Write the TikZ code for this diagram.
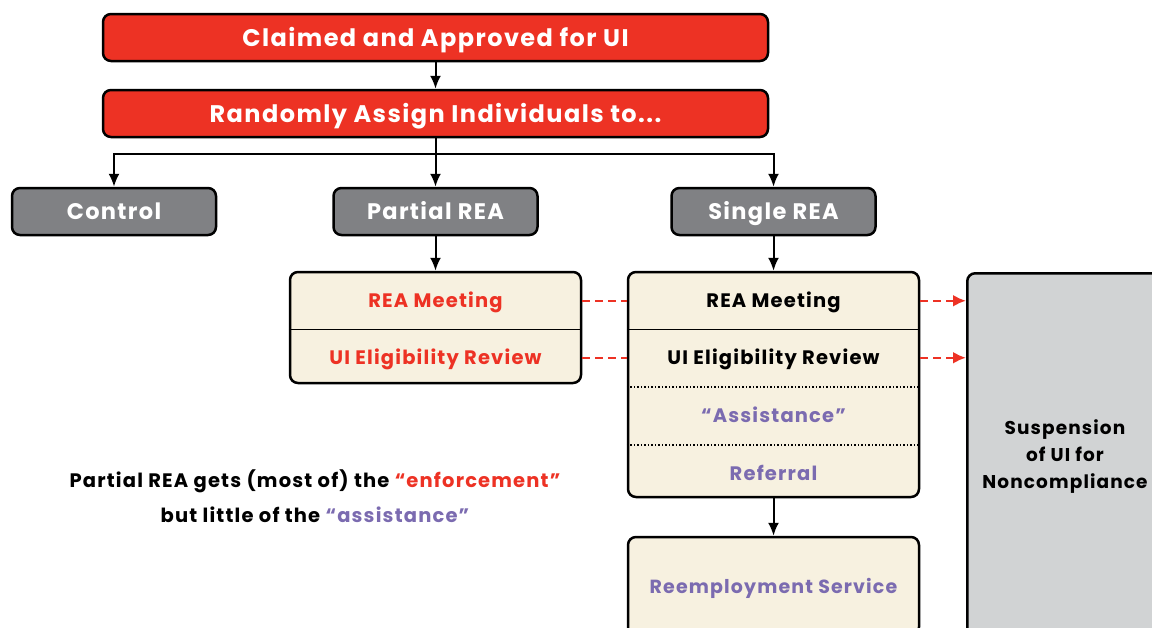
\documentclass[tikz,border=0pt]{standalone}
\usepackage{fontspec}
\setmainfont{Poppins}[LetterSpace=6]
\usetikzlibrary{arrows.meta,positioning,calc}
\definecolor{flowred}{RGB}{237,50,36}
\definecolor{flowgray}{RGB}{128,129,132}
\definecolor{cream}{RGB}{247,241,224}
\definecolor{suspgray}{RGB}{209,211,212}
\definecolor{assist}{RGB}{123,107,176}
\tikzset{
  redbox/.style   = { draw, line width=2.5pt, rounded corners=8pt, fill=flowred, text=white,
    minimum width=665pt, minimum height=47pt, text height=17pt, text depth=0pt,
    font=\bfseries\fontsize{24}{28}\selectfont },
  graybox/.style  = { draw, line width=2.5pt, rounded corners=8pt, fill=flowgray, text=white,
    minimum width=204pt, minimum height=47pt, text height=16pt, text depth=0pt,
    font=\bfseries\fontsize{22.5}{26}\selectfont },
  creambox/.style = { draw, line width=2.5pt, rounded corners=8pt, fill=cream, minimum width=291pt },
  rowtxt/.style   = { text height=14pt, text depth=0pt, font=\bfseries\fontsize{19.5}{24}\selectfont },
  arr/.style      = { -{Latex[length=13pt,width=11pt]}, line width=2pt },
  reddash/.style  = { draw=flowred, line width=2.5pt, dash pattern=on 8pt off 5pt },
  dotline/.style  = { line width=1.5pt, dash pattern=on 1.5pt off 2pt }
}
\begin{document}
\begin{tikzpicture}[x=1pt,y=-1pt,on grid]
  \useasboundingbox (0,0) rectangle (1152,627);
  \clip (0,0) rectangle (1152,627);
  % top of the flow
  \node[redbox] (claim) at (435.5,37.5) {Claimed and Approved for UI};
  \node[redbox, below=76pt of claim] (assign) {Randomly Assign Individuals to...};
  \node[graybox, below=98pt of assign] (partial) {Partial REA};
  \node[graybox, left=321.5pt of partial] (control) {Control};
  \node[graybox, right=338pt of partial] (single) {Single REA};
  \path[arr] (claim) edge (assign);
  \coordinate (split) at ($(assign.south)+(0,16)$);
  \draw[arr] (assign) -- (partial);
  \draw[arr] (split) -| (control);
  \draw[arr] (split) -| (single);
  % partial REA box
  \node[creambox, minimum height=111pt, below=116pt of partial] (partbox) {};
  \node[rowtxt, text=flowred] (partmeet) at ($(partbox.north)+(0,30)$) {REA Meeting};
  \node[rowtxt, text=flowred, below=57pt of partmeet] (partrev) {UI Eligibility Review};
  \coordinate (partcut) at ($(partmeet)!0.5!(partrev)$);
  \draw[line width=1.5pt] (partbox.west |- partcut) -- (partbox.east |- partcut);
  \draw[arr] (partial) -- (partbox);
  % single REA box
  \node[creambox, minimum height=225pt, below=173pt of single] (sglbox) {};
  \node[rowtxt] (sglmeet) at ($(sglbox.north)+(0,30)$) {REA Meeting};
  \node[rowtxt, below=57pt of sglmeet] (sglrev) {UI Eligibility Review};
  \node[rowtxt, text=assist, below=58pt of sglrev] (sglassist) {``Assistance''};
  \node[rowtxt, text=assist, below=58pt of sglassist] (sglref) {Referral};
  \coordinate (sglcuta) at ($(sglmeet)!0.5!(sglrev)$);
  \coordinate (sglcutb) at ($(sglrev)!0.5!(sglassist)$);
  \coordinate (sglcutc) at ($(sglassist)!0.5!(sglref)$);
  \draw[line width=1.5pt] (sglbox.west |- sglcuta) -- (sglbox.east |- sglcuta);
  \draw[dotline] (sglbox.west |- sglcutb) -- (sglbox.east |- sglcutb);
  \draw[dotline] (sglbox.west |- sglcutc) -- (sglbox.east |- sglcutc);
  \draw[arr] (single) -- (sglbox);
  \node[creambox, minimum height=98pt, below=201.5pt of sglbox] (reemp) {};
  \node[rowtxt, text=assist, font=\bfseries\fontsize{19}{24}\selectfont] (reemptxt) at (reemp) {Reemployment Service};
  \draw[arr] (sglbox) -- (reemp);
  % suspension
  \node[draw, line width=2.5pt, rounded corners=8pt, fill=suspgray, minimum width=198pt,
    minimum height=364pt, anchor=north west] (susp) at (966,272) {};
  \node[align=center, font=\bfseries\fontsize{18.5}{27}\selectfont] (susptxt) at (1065,457)
    {Suspension\\of UI for\\Noncompliance};
  \draw[reddash] (partbox.east |- partmeet) -- (sglbox.west |- partmeet);
  \draw[reddash] (partbox.east |- partrev) -- (sglbox.west |- partrev);
  \draw[reddash, -{Latex[length=13pt,width=12pt]}] (sglbox.east |- sglmeet) -- (susp.west |- sglmeet);
  \draw[reddash, -{Latex[length=13pt,width=12pt]}] (sglbox.east |- sglrev) -- (susp.west |- sglrev);
  % note
  \node[align=center, font=\bfseries\fontsize{19.5}{35}\selectfont] (note) at (315,496)
    {Partial REA gets (most of) the \textcolor{flowred}{``enforcement''}\\
     but little of the \textcolor{assist}{``assistance''}};
\end{tikzpicture}
\end{document}
